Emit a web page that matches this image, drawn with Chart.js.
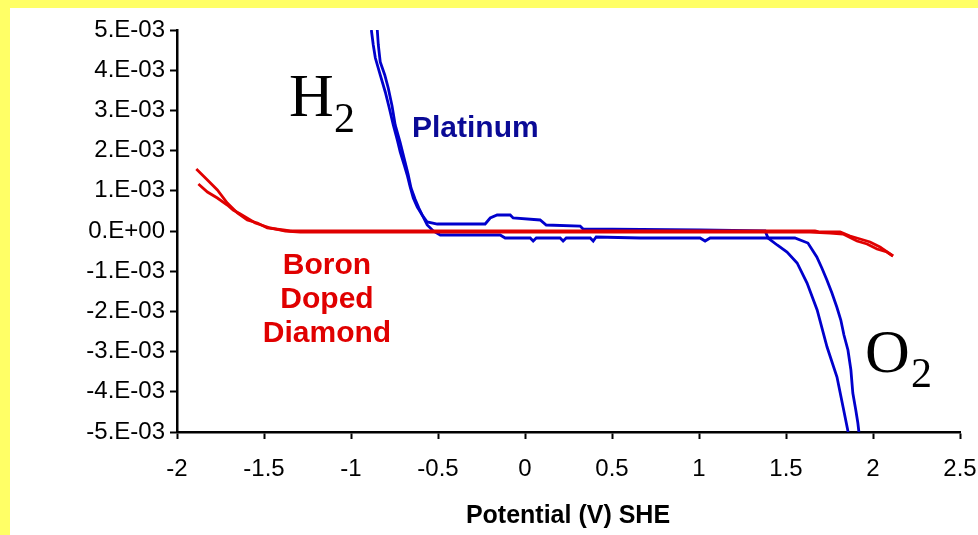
<!DOCTYPE html>
<html>
<head>
<meta charset="utf-8">
<script src="https://cdn.jsdelivr.net/npm/chart.js@4.4.0/dist/chart.umd.min.js"></script>
<style>
  html, body { margin: 0; padding: 0; width: 978px; height: 535px; overflow: hidden; background: #ffff66; }
  #page { position: absolute; left: 10px; top: 8px; right: 0; bottom: 0; background: #ffffff; }
  #cvChart { position: absolute; left: 0; top: 0; }
</style>
</head>
<body>
<div id="page"></div>
<canvas id="cvChart" width="978" height="535"></canvas>
<script>
// axis ticks
const xTicks = [-2, -1.5, -1, -0.5, 0, 0.5, 1, 1.5, 2, 2.5];
const xTickLabels = ['-2', '-1.5', '-1', '-0.5', '0', '0.5', '1', '1.5', '2', '2.5'];
const yTickLabels = ['-5.E-03', '-4.E-03', '-3.E-03', '-2.E-03', '-1.E-03', '0.E+00',
                     '1.E-03', '2.E-03', '3.E-03', '4.E-03', '5.E-03'];

// Platinum, first branch (potential V, current mA)
const pt1V = [-0.883, -0.872, -0.860, -0.832, -0.803, -0.780, -0.757, -0.734, -0.717, -0.694,
              -0.677, -0.660, -0.642, -0.619, -0.591, -0.562, -0.504, -0.229, -0.200, -0.160,
              -0.085, -0.068, 0.087, 0.122, 0.317, 0.334, 1.006, 1.380, 1.397, 1.449,
              1.506, 1.564, 1.621, 1.679, 1.736, 1.793, 1.828, 1.857];
const pt1I = [5.0, 4.627, 4.303, 3.881, 3.458, 3.060, 2.637, 2.264, 1.965, 1.642,
              1.393, 1.095, 0.821, 0.597, 0.398, 0.224, 0.174, 0.174, 0.323, 0.398,
              0.398, 0.323, 0.274, 0.149, 0.124, 0.050, 0.025, 0, -0.174, -0.348,
              -0.522, -0.796, -1.294, -1.965, -2.886, -3.632, -4.378, -5.0];

// Platinum, second branch
const pt2V = [-0.849, -0.843, -0.832, -0.806, -0.786, -0.764, -0.746, -0.718, -0.695, -0.672,
              -0.655, -0.632, -0.610, -0.588, -0.562, -0.527, -0.487, -0.143, -0.114, 0.030,
              0.047, 0.065, 0.202, 0.219, 0.237, 0.375, 0.392, 0.409, 0.662, 1.006,
              1.035, 1.064, 1.551, 1.626, 1.677, 1.706, 1.735, 1.764, 1.792, 1.815,
              1.833, 1.856, 1.873, 1.884, 1.901, 1.913, 1.919];
const pt2I = [5.0, 4.627, 4.204, 3.881, 3.557, 3.109, 2.637, 2.214, 1.816, 1.418,
              1.070, 0.796, 0.572, 0.373, 0.149, 0, -0.100, -0.100, -0.174, -0.174,
              -0.249, -0.174, -0.174, -0.249, -0.174, -0.174, -0.249, -0.149, -0.174, -0.174,
              -0.249, -0.174, -0.174, -0.299, -0.647, -0.920, -1.219, -1.542, -1.891, -2.214,
              -2.587, -2.960, -3.458, -4.030, -4.453, -4.776, -5.0];

// Boron doped diamond, forward and return branches
const bddFwdV = [-1.889, -1.825, -1.768, -1.711, -1.653, -1.596, -1.538, -1.481, -1.389, -1.349,
                 1.667, 1.696, 1.811, 1.868, 1.926, 1.983, 2.040, 2.115];
const bddFwdI = [1.542, 1.269, 1.020, 0.697, 0.448, 0.274, 0.199, 0.075, 0.025, 0,
                 0, -0.025, -0.025, -0.124, -0.199, -0.274, -0.398, -0.622];
const bddRevV = [2.115, 2.080, 2.023, 1.966, 1.908, 1.828, 1.753, 1.638, -1.291, -1.377,
                 -1.464, -1.550, -1.636, -1.677, -1.711, -1.768, -1.825, -1.877];
const bddRevI = [-0.622, -0.522, -0.448, -0.323, -0.249, -0.075, -0.050, -0.025, -0.025, 0,
                 0.075, 0.199, 0.423, 0.522, 0.647, 0.821, 0.970, 1.169];

const RED = '#e00000';
const BLUE = '#0000cc';

function toPoints(vs, is) {
  return vs.map(function(v, i) { return { x: v, y: is[i] / 1000 }; });
}

function lineSet(label, vs, is, color) {
  return {
    label: label,
    data: toPoints(vs, is),
    showLine: true,
    borderColor: color,
    backgroundColor: color,
    borderWidth: 2.8,
    pointRadius: 0,
    tension: 0,
    fill: false
  };
}

/**
 * Free text on the chart: curve labels, gas labels and the axis title
 */
const annotationPlugin = {
  id: 'annotations',
  afterDraw: function(chart) {
    const c = chart.ctx;
    c.save();
    c.textBaseline = 'alphabetic';

    c.fillStyle = '#000000';
    c.textAlign = 'left';
    c.font = '62px "Liberation Serif", "Times New Roman", serif';
    c.fillText('H', 289, 116);
    c.fillText('O', 865, 372);
    c.font = '42px "Liberation Serif", "Times New Roman", serif';
    c.fillText('2', 334, 132);
    c.fillText('2', 911, 387);

    c.font = 'bold 30px "Liberation Sans", Arial, sans-serif';
    c.fillStyle = '#0a0a96';
    c.fillText('Platinum', 412, 137);

    c.fillStyle = RED;
    c.textAlign = 'center';
    c.fillText('Boron', 327, 274);
    c.fillText('Doped', 327, 308);
    c.fillText('Diamond', 327, 342);

    c.fillStyle = '#000000';
    c.font = 'bold 25px "Liberation Sans", Arial, sans-serif';
    c.fillText('Potential (V) SHE', 568, 523);
    c.restore();
  }
};

function initVoltammogramChart() {
  const ctx = document.getElementById('cvChart');
  if (!ctx) return;

  const chart = new Chart(ctx, {
    type: 'scatter',
    data: {
      datasets: [
        lineSet('BDD forward', bddFwdV, bddFwdI, RED),
        lineSet('BDD return', bddRevV, bddRevI, RED),
        lineSet('Pt branch 1', pt1V, pt1I, BLUE),
        lineSet('Pt branch 2', pt2V, pt2I, BLUE)
      ]
    },
    options: {
      responsive: false,
      animation: false,
      layout: {
        padding: { top: 30, right: 18, bottom: 0, left: 0 }
      },
      plugins: {
        legend: { display: false },
        tooltip: { enabled: false },
        title: { display: false }
      },
      scales: {
        x: {
          type: 'linear',
          min: -2,
          max: 2.5,
          afterFit: function(scale) {
            scale.height = 103;
            // keep the plot edges fixed regardless of label overhang
            scale.paddingLeft = 0;
            scale.paddingRight = 0;
          },
          afterBuildTicks: function(scale) {
            scale.ticks = xTicks.map(function(v) { return { value: v }; });
          },
          ticks: {
            color: '#000000',
            padding: 16,
            maxRotation: 0,
            font: { family: '"Liberation Sans", Arial, sans-serif', size: 24 },
            callback: function(value, index) { return xTickLabels[index]; }
          },
          grid: {
            drawOnChartArea: false,
            drawTicks: true,
            tickLength: 7,
            tickWidth: 2,
            tickColor: '#000000'
          },
          border: { display: true, color: '#000000', width: 2.5 }
        },
        y: {
          type: 'linear',
          min: -0.005,
          max: 0.005,
          afterFit: function(scale) {
            scale.width = 177;
            scale.paddingTop = 0;
            scale.paddingBottom = 0;
          },
          ticks: {
            stepSize: 0.001,
            color: '#000000',
            padding: 5,
            font: { family: '"Liberation Sans", Arial, sans-serif', size: 24 },
            callback: function(value) {
              return yTickLabels[Math.round(value * 1000) + 5];
            }
          },
          grid: {
            drawOnChartArea: false,
            drawTicks: true,
            tickLength: 7,
            tickWidth: 2,
            tickColor: '#000000'
          },
          border: { display: true, color: '#000000', width: 2.5 }
        }
      }
    },
    plugins: [annotationPlugin]
  });
}

document.addEventListener('DOMContentLoaded', function() {
  initVoltammogramChart();
});
</script>
</body>
</html>
